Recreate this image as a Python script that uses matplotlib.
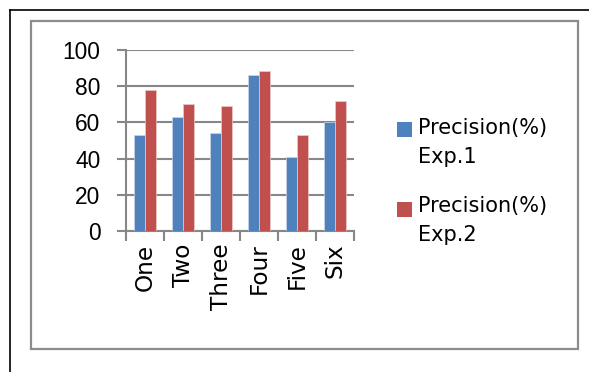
import numpy as np
import matplotlib.pyplot as plt
from matplotlib.lines import Line2D
from matplotlib.patches import Rectangle

plt.rcParams['font.family'] = ['Liberation Sans', 'DejaVu Sans']

categories = ['One', 'Two', 'Three', 'Four', 'Five', 'Six']
exp1 = [53, 63, 54, 86, 41, 60]
exp2 = [78, 70, 69, 88.5, 53, 72]
series_names = ['Precision(%)\nExp.1', 'Precision(%)\nExp.2']
colors = ['#4F81BD', '#C0504D']

W, H = 589, 372
fig = plt.figure(figsize=(W / 100, H / 100), dpi=100)

# page frame (top and left edge only) and the gray chart border
fig.add_artist(Line2D([10 / W, 10 / W], [0, 1 - 10 / H], color='black', lw=1.2))
fig.add_artist(Line2D([10 / W, 1], [1 - 10 / H, 1 - 10 / H], color='black', lw=1.2))
fig.add_artist(Rectangle((31 / W, 1 - 349 / H), (578 - 31) / W, (349 - 21) / H,
                         fill=False, edgecolor='#8c8c8c', lw=1.6))

ax = fig.add_axes([126 / W, 141 / H, 228 / W, 181 / H])

x = np.arange(len(categories))
bw = 0.29
ax.bar(x + 0.5 - bw / 2, exp1, bw, color=colors[0], edgecolor='#c9d6ea', lw=0.5, zorder=3)
ax.bar(x + 0.5 + bw / 2, exp2, bw, color=colors[1], edgecolor='#eacaca', lw=0.5, zorder=3)

ax.set_xlim(0, len(categories))
ax.set_ylim(0, 100)
ax.set_yticks(range(0, 101, 20))
ax.yaxis.grid(True, color='#878787', lw=1.5, zorder=0)

ax.set_xticks(np.arange(len(categories) + 1))
ax.set_xticklabels([])
ax.set_xticks(x + 0.5, minor=True)
ax.set_xticklabels(categories, minor=True, rotation=90, fontsize=16.7,
                   family=['DejaVu Sans'])
ax.tick_params(axis='x', which='major', direction='out', length=7, width=1.5, color='#878787')
ax.tick_params(axis='x', which='minor', length=0, pad=9)
ax.tick_params(axis='y', direction='out', length=6.5, width=1.5, color='#878787',
               labelsize=16.4, pad=12)

for s in ['top', 'right']:
    ax.spines[s].set_visible(False)
for s in ['left', 'bottom']:
    ax.spines[s].set_color('#878787')
    ax.spines[s].set_linewidth(1.5)

# legend on the right, marker aligned with the first line of each label
for i, (name, c) in enumerate(zip(series_names, colors)):
    y0 = 122 + i * 80
    fig.add_artist(Rectangle((397 / W, 1 - (y0 + 15) / H), 15 / W, 15 / H,
                             facecolor=c, edgecolor='none'))
    fig.text(418 / W, 1 - (118 + i * 78) / H, name, fontsize=15, va='top', ha='left',
             linespacing=1.58, family=['DejaVu Sans'])

fig.savefig('out.png', dpi=100)
